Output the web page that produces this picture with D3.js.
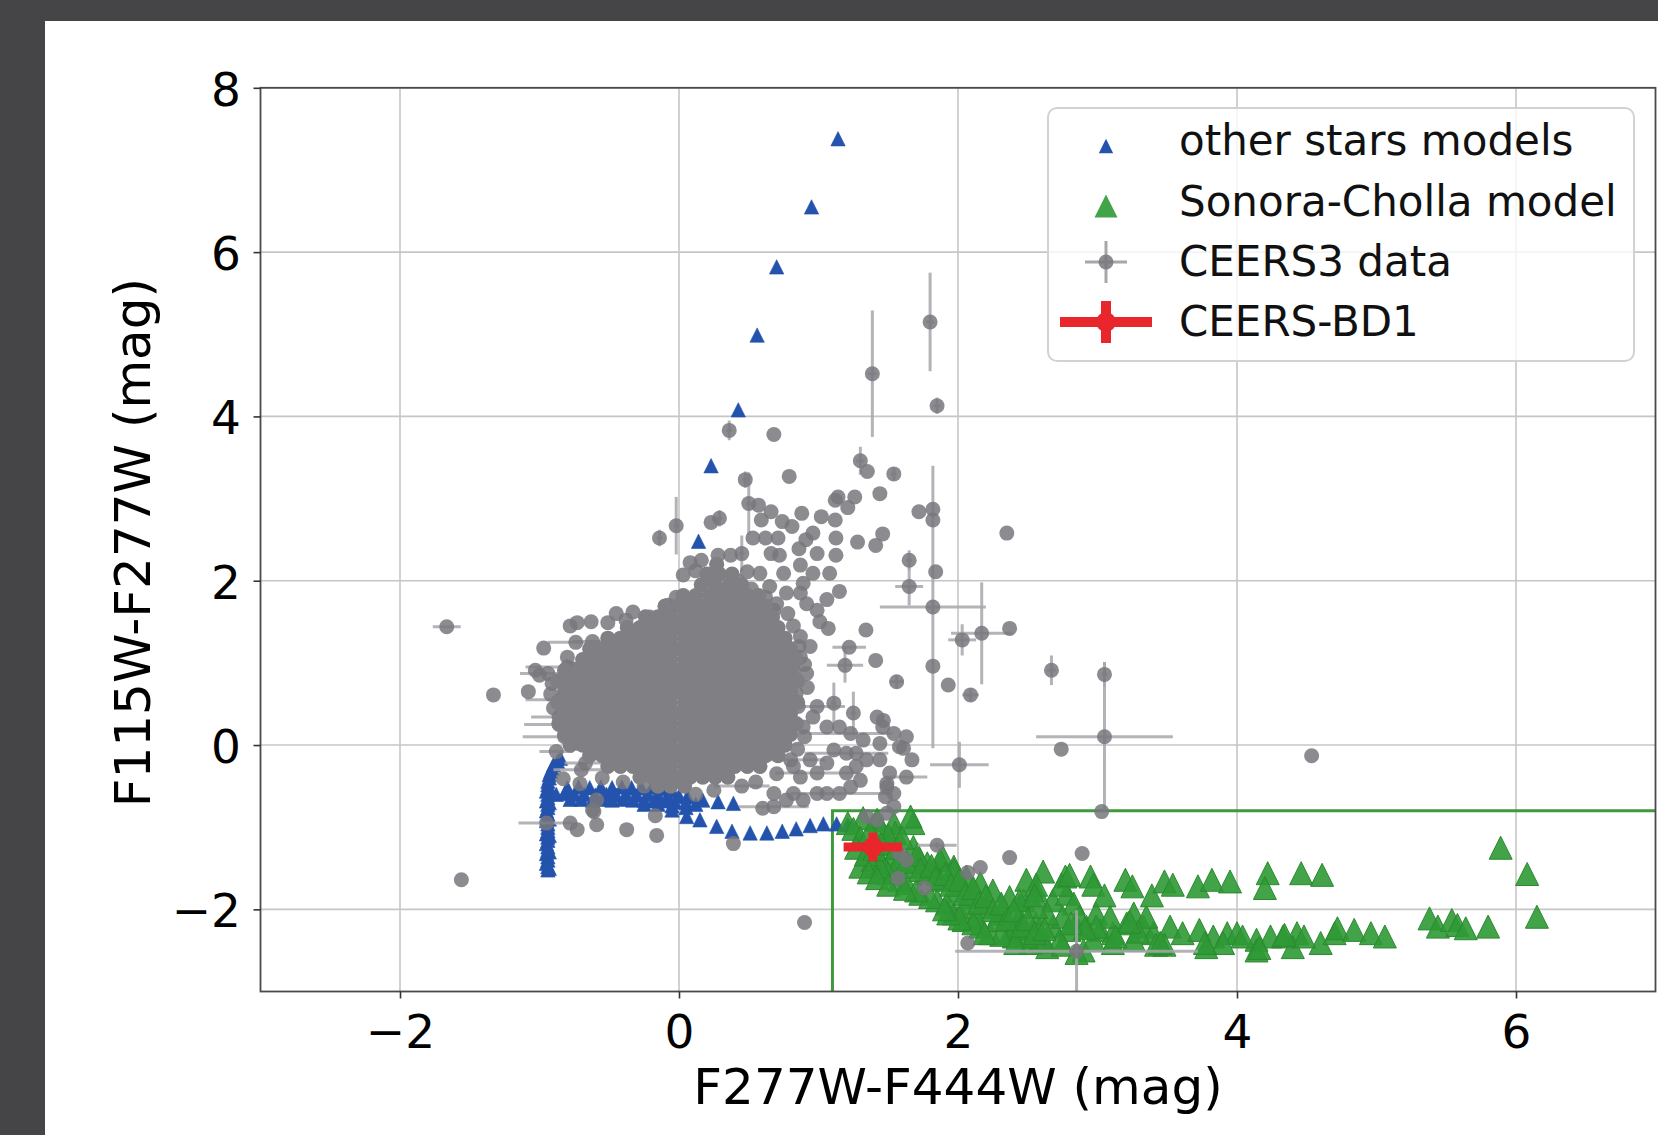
<!DOCTYPE html>
<html><head><meta charset="utf-8">
<script src="https://cdn.jsdelivr.net/npm/d3@7"></script>
<style>body{margin:0;background:#454547}svg{display:block}</style>
</head><body>
<svg id="c" width="1658" height="1135"></svg>
<script>
// ---------- data ----------
const xTicks = [-2, 0, 2, 4, 6];
const yTicks = [-2, 0, 2, 4, 6, 8];
const xDomain = [-3, 7];
const yDomain = [-3, 8];
const xLabel = "F277W-F444W (mag)";
const yLabel = "F115W-F277W (mag)";
const legendLabels = ["other stars models", "Sonora-Cholla model", "CEERS3 data", "CEERS-BD1"];
const selectionBox = [1.1, -0.8]; // x >= 1.1, y <= -0.8

// other stars models [x, y]
const otherStars = [
 [1.14,7.38],[0.95,6.55],[0.70,5.82],[0.56,4.99],[0.425,4.08],[0.23,3.40],[0.14,2.48],
 [-0.94,-1.52],[-0.94,-1.48],[-0.95,-1.44],[-0.94,-1.40],[-0.94,-1.36],[-0.95,-1.32],[-0.94,-1.28],[-0.94,-1.24],
 [-0.95,-1.20],[-0.94,-1.16],[-0.94,-1.12],[-0.95,-1.08],[-0.94,-1.04],[-0.94,-1.00],[-0.94,-0.96],[-0.95,-0.92],
 [-0.94,-0.88],[-0.94,-0.84],[-0.95,-0.80],[-0.94,-0.76],[-0.94,-0.72],[-0.95,-0.68],[-0.94,-0.64],[-0.94,-0.60],
 [-0.95,-0.56],[-0.94,-0.52],[-0.94,-0.48],[-0.94,-0.44],[-0.93,-0.40],[-0.93,-0.36],[-0.92,-0.32],[-0.91,-0.28],
 [-0.90,-0.24],[-0.87,-0.20],[-0.85,-0.16],[-0.93,-1.50],[-0.93,-1.30],[-0.93,-1.10],[-0.93,-0.90],[-0.93,-0.70],
 [-0.80,-0.52],[-0.72,-0.51],[-0.64,-0.52],[-0.56,-0.51],[-0.48,-0.52],[-0.41,-0.51],[-0.34,-0.52],[-0.27,-0.52],
 [-0.19,-0.51],[-0.12,-0.53],[-0.05,-0.55],
 [-0.88,-0.60],[-0.82,-0.59],[-0.75,-0.60],[-0.68,-0.60],[-0.60,-0.61],[-0.52,-0.60],[-0.45,-0.61],[-0.38,-0.60],
 [-0.30,-0.61],[-0.22,-0.60],[-0.15,-0.61],[-0.08,-0.62],[0.00,-0.62],[0.06,-0.63],
 [-0.78,-0.66],[-0.70,-0.66],[-0.62,-0.67],[-0.55,-0.66],[-0.48,-0.67],[-0.40,-0.66],[-0.33,-0.67],[-0.25,-0.67],
 [-0.18,-0.68],[-0.10,-0.68],[-0.03,-0.69],[0.05,-0.70],
 [-0.25,-0.72],[-0.15,-0.72],[-0.05,-0.74],[0.05,-0.76],[0.12,-0.72],
 [0.17,-0.67],[0.28,-0.69],[0.39,-0.71],[-0.05,-0.79],[0.055,-0.87],[0.15,-0.91],[0.27,-0.99],[0.38,-1.05],
 [0.51,-1.07],[0.63,-1.07],[0.74,-1.05],[0.84,-1.02],[0.94,-0.98],[1.035,-0.96],[1.13,-0.96],[1.21,-0.97],
 [1.72,-1.36],[2.44,-1.90],[2.87,-2.21]
];

// Sonora-Cholla model [x, y]
const sonora = [
 [1.21,-0.95],[1.32,-0.89],[1.42,-0.91],[1.54,-0.95],[1.68,-0.95],[1.66,-0.87],[1.30,-1.48],[1.39,-1.40],
 [1.54,-1.32],[1.68,-1.24],[1.78,-1.44],[1.89,-1.36],[1.97,-1.48],[1.55,-1.07],[1.49,-1.20],[1.46,-1.44],
 [1.54,-1.56],[1.63,-1.68],[1.73,-1.81],[1.85,-1.89],[1.97,-2.05],[2.04,-2.13],[2.16,-2.21],[2.23,-2.29],
 [2.40,-2.33],[2.52,-2.41],[2.64,-2.46],[2.75,-2.43],[2.90,-2.50],
 [1.87,-1.40],[1.97,-1.52],[2.06,-1.60],[2.16,-1.68],[2.25,-1.77],[2.37,-1.85],[2.47,-1.89],
 [1.58,-1.40],[1.68,-1.48],[1.78,-1.56],[1.87,-1.64],[1.99,-1.77],[2.09,-1.85],[2.21,-1.97],[2.30,-2.05],
 [2.44,-2.09],[2.56,-2.17],[2.68,-2.21],[2.80,-2.25],[2.92,-2.21],[3.02,-2.25],[3.11,-2.29],[3.21,-2.17],
 [3.33,-2.21],[3.40,-2.29],[3.52,-2.21],[3.61,-2.29],[3.73,-2.25],[3.83,-2.33],[3.93,-2.29],[4.00,-2.29],
 [4.14,-2.37],[4.24,-2.33],[4.33,-2.33],[4.43,-2.29],[4.60,-2.41],[4.70,-2.29],
 [3.42,-2.43],[3.48,-2.43],[3.78,-2.46],[3.90,-2.41],[4.14,-2.50],[4.40,-2.46],[3.26,-2.37],[3.11,-2.41],
 [2.97,-2.37],[2.73,-2.37],[2.59,-2.37],[2.37,-2.29],[2.28,-2.13],[2.13,-2.09],[2.04,-1.97],[1.92,-1.93],
 [1.80,-1.85],[1.70,-1.77],[1.58,-1.64],[1.50,-1.56],[1.44,-1.48],
 [2.49,-1.64],[2.56,-1.77],[2.44,-1.89],[2.68,-1.89],[2.78,-1.81],[2.83,-1.93],[2.87,-2.09],[2.75,-2.09],
 [2.64,-2.05],[2.56,-1.97],[2.99,-2.05],[3.09,-2.09],[3.26,-2.05],[3.35,-2.09],
 [2.61,-1.54],[2.56,-1.70],[2.55,-1.83],[2.77,-1.60],[2.74,-1.70],[2.80,-1.58],[2.95,-1.60],[2.97,-1.70],
 [3.05,-1.83],[3.20,-1.64],[3.25,-1.72],[3.39,-1.83],[3.48,-1.66],[3.54,-1.70],[3.72,-1.72],[3.82,-1.64],
 [3.95,-1.66],[4.22,-1.56],[4.20,-1.74],[4.46,-1.56],[4.61,-1.58],
 [4.72,-2.23],[4.84,-2.25],[4.96,-2.29],[5.06,-2.33],[4.48,-2.33],[4.34,-2.31],[4.16,-2.47],[4.04,-2.33],
 [3.77,-2.41],[3.45,-2.41],[3.29,-2.27],[3.23,-2.15],[3.13,-2.33],[2.99,-2.21],[2.91,-2.23],[2.81,-2.17],
 [2.61,-2.39],[2.49,-2.33],[2.41,-2.23],[2.31,-2.31],[2.11,-2.17],[2.01,-2.11],[1.93,-2.05],[2.19,-2.29],
 [2.41,-2.41],[2.85,-2.53],
 [5.38,-2.11],[5.44,-2.21],[5.54,-2.13],[5.58,-2.19],[5.64,-2.23],[5.80,-2.21],[5.89,-1.25],[6.08,-1.57],[6.15,-2.09],
 [1.25,-1.02],[1.30,-1.13],[1.27,-1.25],[1.34,-1.33],[1.40,-1.27],[1.37,-1.05],[1.45,-1.02],[1.50,-1.10],
 [1.45,-1.20],[1.56,-1.25],[1.60,-1.13],[1.63,-1.42],[1.71,-1.33],[1.73,-1.52],[1.81,-1.47],[1.84,-1.62],
 [1.91,-1.57],[1.95,-1.70],[2.01,-1.64],[2.05,-1.81],[2.11,-1.74],[2.15,-1.92],[2.20,-1.84],[2.25,-2.01],
 [2.31,-1.93],[2.35,-2.12],[2.40,-2.01],[2.46,-2.20],[2.50,-2.12],[2.55,-2.29],[2.62,-2.24],
 [1.36,-1.55],[1.42,-1.62],[1.50,-1.70],[1.62,-1.75],[1.90,-2.00]
];

// CEERS3 data, dense core [y, x1, x2, ...] per row
const ceersCoreRows = [
 [2.20, 0.27],
 [2.08, 0.20,0.29,0.38],
 [1.95, 0.16,0.26,0.36,0.45],
 [1.82, 0.03,0.12,0.22,0.31,0.40,0.49,0.57],
 [1.69, -0.10,-0.01,0.08,0.17,0.26,0.35,0.44,0.53,0.62],
 [1.56, -0.24,-0.15,-0.06,0.04,0.13,0.22,0.31,0.40,0.49,0.58,0.67],
 [1.43, -0.37,-0.28,-0.19,-0.10,-0.01,0.08,0.17,0.26,0.35,0.44,0.53,0.62,0.71],
 [1.30, -0.51,-0.42,-0.33,-0.24,-0.15,-0.06,0.04,0.13,0.22,0.31,0.40,0.49,0.58,0.67,0.76],
 [1.17, -0.64,-0.55,-0.46,-0.37,-0.28,-0.19,-0.10,-0.01,0.08,0.17,0.26,0.35,0.44,0.53,0.62,0.71,0.80],
 [1.04, -0.69,-0.60,-0.51,-0.42,-0.33,-0.24,-0.15,-0.06,0.04,0.13,0.22,0.31,0.40,0.49,0.58,0.67,0.76,0.84],
 [0.91, -0.82,-0.73,-0.64,-0.55,-0.46,-0.37,-0.28,-0.19,-0.10,-0.01,0.08,0.17,0.26,0.35,0.44,0.53,0.62,0.71,0.80],
 [0.78, -0.87,-0.78,-0.69,-0.60,-0.51,-0.42,-0.33,-0.24,-0.15,-0.06,0.04,0.13,0.22,0.31,0.40,0.49,0.58,0.67,0.76,0.85],
 [0.65, -0.82,-0.73,-0.64,-0.55,-0.46,-0.37,-0.28,-0.19,-0.10,-0.01,0.08,0.17,0.26,0.35,0.44,0.53,0.62,0.71,0.80],
 [0.52, -0.87,-0.78,-0.69,-0.60,-0.51,-0.42,-0.33,-0.24,-0.15,-0.06,0.04,0.13,0.22,0.31,0.40,0.49,0.58,0.67,0.76,0.85],
 [0.39, -0.82,-0.73,-0.64,-0.55,-0.46,-0.37,-0.28,-0.19,-0.10,-0.01,0.08,0.17,0.26,0.35,0.44,0.53,0.62,0.71,0.80],
 [0.26, -0.86,-0.78,-0.69,-0.60,-0.51,-0.42,-0.33,-0.24,-0.15,-0.06,0.04,0.13,0.22,0.31,0.40,0.49,0.58,0.67,0.76,0.84],
 [0.13, -0.82,-0.73,-0.64,-0.55,-0.46,-0.37,-0.28,-0.19,-0.10,-0.01,0.08,0.17,0.26,0.35,0.44,0.53,0.62,0.71,0.80],
 [0.00, -0.78,-0.69,-0.60,-0.51,-0.42,-0.33,-0.24,-0.15,-0.06,0.04,0.13,0.22,0.31,0.40,0.49,0.58,0.67,0.76],
 [-0.13, -0.64,-0.55,-0.46,-0.37,-0.28,-0.19,-0.10,-0.01,0.08,0.17,0.26,0.35,0.44,0.53,0.62,0.71],
 [-0.26, -0.51,-0.42,-0.33,-0.24,-0.15,-0.06,0.04,0.13,0.22,0.31,0.40,0.49,0.58],
 [-0.39, -0.28,-0.19,-0.10,-0.01,0.08,0.17,0.26,0.35],
 [-0.50, -0.15,-0.06,0.04]
];

// CEERS3 data, scattered points [x, y, xerr, yerr]
const ceersScatter = [
 [1.80,5.15,0.03,0.60],[1.386,4.52,0.03,0.77],[1.85,4.13,0.03,0.10],[0.36,3.83,0.02,0.12],[0.68,3.78,0,0],
 [1.30,3.46,0.03,0.17],[1.35,3.33,0,0],[1.54,3.30,0.02,0.08],[0.79,3.27,0,0],[0.475,3.23,0.02,0.10],
 [1.44,3.06,0,0],[1.14,3.02,0,0],[1.26,3.02,0,0],[1.12,2.98,0,0],[1.21,2.89,0,0],[1.72,2.84,0,0],
 [1.82,2.87,0,0],[1.82,2.74,0,0],[1.65,2.25,0.02,0.12],[1.84,2.11,0,0],[2.35,2.58,0,0],[1.46,2.57,0,0],
 [1.41,2.43,0,0],[1.28,2.47,0,0],[1.125,2.52,0,0],[1.125,2.31,0,0],[0.99,2.33,0,0],[0.96,2.58,0,0],
 [0.91,2.50,0,0],[0.86,2.39,0,0],[1.02,2.78,0,0],[1.12,2.74,0,0],[0.88,2.82,0,0],[0.81,2.66,0,0],
 [0.74,2.72,0,0],[0.66,2.84,0,0],[0.59,2.74,0,0],[0.57,2.92,0,0],[0.50,2.94,0.02,0.38],[0.62,2.52,0,0],
 [0.71,2.52,0,0],[0.53,2.52,0,0],[0.66,2.33,0,0],[0.72,2.31,0,0],[0.45,2.33,0.02,0.22],[0.37,2.31,0,0],
 [0.28,2.31,0,0],[0.29,2.76,0.02,0.10],[0.23,2.71,0,0],[-0.02,2.67,0.02,0.35],[-0.14,2.52,0.02,0.10],
 [0.16,2.25,0,0],[0.08,2.22,0,0],[0.03,2.07,0,0],[0.23,2.07,0,0],[0.49,2.11,0,0],[0.75,2.09,0,0],
 [0.87,2.19,0,0],[0.96,2.09,0,0],[1.08,2.09,0,0],
 [1.65,1.93,0.10,0.23],[1.82,1.68,0.38,1.72],[2.03,1.28,0.10,0.19],[2.17,1.36,0.22,0.62],[2.37,1.42,0,0],
 [1.82,0.96,0,0],[1.93,0.73,0,0],[2.09,0.61,0.06,0.08],[1.56,0.77,0.05,0.08],[1.41,1.03,0,0],[1.34,1.40,0,0],
 [1.19,0.97,0.13,0.21],[1.22,1.19,0.12,0],[2.01,-0.24,0.21,0.28],[2.67,0.91,0.03,0.18],[3.05,0.86,0.02,0.15],
 [3.05,0.10,0.49,0.91],[2.74,-0.05,0,0],[3.03,-0.81,0,0],[4.535,-0.13,0,0],[1.85,-1.22,0.14,0.04],
 [2.37,-1.37,0,0],[2.89,-1.32,0,0],[2.16,-1.49,0,0],[2.07,-1.55,0,0],[1.76,-1.74,0.04,0.05],[2.07,-2.41,0,0],
 [2.85,-2.51,0.87,0.50],[1.57,-1.62,0,0],[1.58,-1.32,0,0],[1.63,-1.40,0,0],[1.42,-0.91,0,0],[1.49,-0.83,0,0],
 [1.54,-0.75,0,0],[1.345,-0.87,0,0],
 [0.39,-1.20,0,0],[-0.16,-1.10,0,0],[-0.375,-1.03,0,0],[-0.17,-0.86,0,0],[-0.61,-0.81,0,0],[-0.59,-0.97,0,0],
 [-0.73,-1.03,0,0],[-0.78,-0.95,0,0],[-0.95,-0.95,0.20,0],[-0.83,-0.41,0,0],[-0.71,-0.47,0,0],
 [-0.88,-0.08,0.12,0],[-0.67,-0.22,0.15,0],[-0.48,-0.20,0,0],[-0.63,-0.06,0,0],[-0.72,0.02,0,0],[-0.79,0.22,0,0],
 [-0.86,0.34,0.20,0],[-0.91,0.75,0,0],[-0.94,0.87,0.20,0],[-1.00,0.85,0,0],[-1.03,0.91,0,0],[-1.08,0.65,0,0],
 [-0.97,1.18,0,0],[-1.33,0.61,0,0],[-1.665,1.44,0.10,0],[-1.56,-1.64,0,0],[0.90,-2.16,0,0],
 [-0.78,1.45,0,0],[-0.73,1.49,0,0],[-0.63,1.50,0,0],[-0.51,1.49,0,0],[-0.33,1.62,0,0],[-0.21,1.56,0,0],
 [-0.09,1.56,0,0],[-0.29,1.40,0,0],[-0.62,1.26,0.14,0],[-0.57,1.14,0,0],[-0.80,1.07,0,0],[-0.76,0.93,0,0],
 [-0.59,-0.67,0,0],[-0.62,-0.79,0,0],
 [-0.85,0.55,0.25,0],[-0.82,0.10,0.30,0],[-0.80,0.95,0.30,0],[-0.74,1.25,0.20,0],[-0.86,0.25,0.25,0],
 [-0.70,-0.30,0.20,0],[-0.55,-0.40,0,0],[-0.40,-0.45,0,0],[-0.90,0.45,0,0],[-0.92,0.62,0,0],
 [-0.45,1.60,0,0],[-0.38,1.52,0,0],[-0.02,1.80,0,0],[-0.08,1.70,0,0],[0.62,1.80,0,0],[0.70,1.72,0,0],
 [0.78,1.60,0,0],[0.82,1.45,0,0],[0.86,1.20,0,0],[0.90,0.98,0,0],[0.92,0.70,0,0],[0.90,0.10,0,0],
 [0.85,-0.05,0,0],[0.80,-0.18,0.25,0],[0.70,-0.35,0,0],[0.55,-0.45,0,0],[0.45,-0.50,0.20,0],
 [0.25,-0.55,0,0],[0.12,-0.60,0,0],[-0.25,-0.50,0,0],[0.12,2.12,0,0],[0.42,2.00,0,0],[0.52,1.90,0,0],
 [1.15,1.87,0,0],[1.06,1.77,0,0],[0.99,1.64,0,0],[1.01,1.50,0,0],[1.07,1.42,0,0],[0.915,1.72,0,0],
 [0.87,1.85,0,0],[0.89,1.97,0,0],[0.77,1.85,0,0],[0.68,1.64,0,0],[0.65,1.93,0,0],[0.58,2.09,0,0],
 [0.87,1.32,0,0],[0.94,1.20,0,0],[0.87,1.07,0,0],[0.82,0.91,0,0],[0.915,0.87,0,0],[0.84,0.63,0,0],
 [0.855,0.47,0,0],[0.99,0.47,0.20,0],[1.11,0.51,0.02,0.25],[1.25,0.39,0.02,0.26],[1.42,0.34,0,0],[1.46,0.22,0,0],
 [1.54,0.14,0,0],[1.63,0.10,0,0],[1.58,-0.02,0,0],[1.44,0.02,0,0],[1.32,0.06,0,0],[1.23,0.14,0.30,0],
 [1.15,0.22,0,0],[1.06,0.22,0,0],[0.96,0.34,0,0],[0.89,0.22,0,0],[1.67,-0.18,0,0],[1.63,-0.39,0.15,0],
 [1.51,-0.34,0,0],[1.49,-0.51,0,0],[1.54,-0.59,0,0],[1.44,-0.18,0,0],[1.345,-0.18,0,0],[1.27,-0.26,0,0],
 [1.20,-0.34,0,0],[1.30,-0.43,0,0],[1.23,-0.51,0,0],[1.15,-0.59,0.35,0],[1.06,-0.59,0,0],[0.99,-0.59,0,0],
 [0.89,-0.67,0,0],[0.82,-0.59,0,0],[0.77,-0.67,0,0],[0.68,-0.75,0.25,0],[0.60,-0.77,0,0],[0.68,-0.59,0,0],
 [0.87,-0.39,0,0],[0.99,-0.34,0.30,0],[1.06,-0.22,0,0],[0.94,-0.18,0,0],[0.82,-0.26,0,0],[1.11,-0.06,0,0],
 [1.20,-0.10,0.30,0],[1.27,-0.10,0,0],[1.465,0.30,0,0],[1.61,-0.04,0,0],[1.49,-0.47,0,0],[1.48,-0.63,0,0]
];

// CEERS-BD1 [x, y, xerr, yerr]
const bd1 = [1.39, -1.24, 0.21, 0.175];

// ---------- drawing ----------
const W = 1658, H = 1135;
const svg = d3.select("#c");
const FONT = "DejaVu Sans";
svg.append("rect").attr("width", W).attr("height", H).attr("fill", "#454547");
svg.append("rect").attr("x", 45).attr("y", 21).attr("width", W - 45).attr("height", H - 21).attr("fill", "#ffffff");

const x = d3.scaleLinear().domain(xDomain).range([260.5, 1655.5]);
const y = d3.scaleLinear().domain(yDomain).range([991.5, 87.8]);

const COL_BLUE = "#2453ad", COL_GREEN = "#2f9934", COL_GRAY = "#77777d", COL_CORE = "#7f7f84",
      COL_ERR = "#a6a6ab", COL_RED = "#e8262b";
const tri = h => `M0,${-h}L${-h},${h}L${h},${h}Z`;

// grid
const grid = svg.append("g");
grid.selectAll("line.gx").data(xTicks).join("line")
  .attr("x1", d => x(d)).attr("x2", d => x(d)).attr("y1", y(yDomain[0])).attr("y2", y(yDomain[1]))
  .attr("stroke", "#c6c6c6").attr("stroke-width", 1.6);
grid.selectAll("line.gy").data(yTicks).join("line")
  .attr("y1", d => y(d)).attr("y2", d => y(d)).attr("x1", x(xDomain[0])).attr("x2", x(xDomain[1]))
  .attr("stroke", "#c6c6c6").attr("stroke-width", 1.6);

svg.append("clipPath").attr("id", "clip").append("rect")
  .attr("x", x(xDomain[0])).attr("y", y(yDomain[1]))
  .attr("width", x(xDomain[1]) - x(xDomain[0])).attr("height", y(yDomain[0]) - y(yDomain[1]));
const plot = svg.append("g").attr("clip-path", "url(#clip)");

// selection box
plot.append("path")
  .attr("d", `M${x(selectionBox[0])},${y(yDomain[0]) + 5}V${y(selectionBox[1])}H${x(xDomain[1]) + 5}`)
  .attr("fill", "none").attr("stroke", "#3d9a3d").attr("stroke-width", 3);

// other stars models
plot.append("g").selectAll("path").data(otherStars).join("path")
  .attr("d", tri(7.2)).attr("transform", d => `translate(${x(d[0])},${y(d[1])})`)
  .attr("fill", COL_BLUE).attr("stroke", COL_BLUE).attr("stroke-width", 0.6);

// Sonora-Cholla
plot.append("g").selectAll("path").data(sonora).join("path")
  .attr("d", tri(11.5)).attr("transform", d => `translate(${x(d[0])},${y(d[1])})`)
  .attr("fill", COL_GREEN).attr("fill-opacity", 0.9).attr("stroke", "#2a8a2f").attr("stroke-width", 1);

// CEERS3 data
const core = [];
ceersCoreRows.forEach(r => r.slice(1).forEach(v => core.push([v, r[0]])));
const eb = plot.append("g").attr("stroke", COL_ERR).attr("stroke-width", 3).attr("stroke-opacity", 0.85);
ceersScatter.filter(d => d[2] > 0).forEach(d => {
  eb.append("line").attr("x1", x(d[0] - d[2])).attr("x2", x(d[0] + d[2])).attr("y1", y(d[1])).attr("y2", y(d[1]));
});
ceersScatter.filter(d => d[3] > 0).forEach(d => {
  eb.append("line").attr("x1", x(d[0])).attr("x2", x(d[0])).attr("y1", y(d[1] - d[3])).attr("y2", y(d[1] + d[3]));
});
plot.append("g").selectAll("circle").data(ceersScatter).join("circle")
  .attr("cx", d => x(d[0])).attr("cy", d => y(d[1])).attr("r", 7.5)
  .attr("fill", COL_GRAY).attr("fill-opacity", 0.85);
plot.append("g").selectAll("circle").data(core).join("circle")
  .attr("cx", d => x(d[0])).attr("cy", d => y(d[1])).attr("r", 7.6)
  .attr("fill", COL_CORE);

// CEERS-BD1
const red = plot.append("g").attr("stroke", COL_RED).attr("stroke-width", 9);
red.append("line").attr("x1", x(bd1[0] - bd1[2])).attr("x2", x(bd1[0] + bd1[2])).attr("y1", y(bd1[1])).attr("y2", y(bd1[1]));
red.append("line").attr("x1", x(bd1[0])).attr("x2", x(bd1[0])).attr("y1", y(bd1[1] - bd1[3])).attr("y2", y(bd1[1] + bd1[3]));
red.append("circle").attr("cx", x(bd1[0])).attr("cy", y(bd1[1])).attr("r", 10).attr("fill", COL_RED).attr("stroke", "none");

// frame
svg.append("rect").attr("x", x(xDomain[0])).attr("y", y(yDomain[1]))
  .attr("width", x(xDomain[1]) - x(xDomain[0])).attr("height", y(yDomain[0]) - y(yDomain[1]))
  .attr("fill", "none").attr("stroke", "#4a4a4a").attr("stroke-width", 1.8);

// axes
const fmt = d3.format("d");
const ax = svg.append("g").attr("transform", `translate(0,${y(yDomain[0])})`)
  .call(d3.axisBottom(x).tickValues(xTicks).tickFormat(fmt).tickSize(7).tickPadding(16).tickSizeOuter(0));
const ay = svg.append("g").attr("transform", `translate(${x(xDomain[0])},0)`)
  .call(d3.axisLeft(y).tickValues(yTicks).tickFormat(fmt).tickSize(7).tickPadding(12.5).tickSizeOuter(0));
[ax, ay].forEach(a => {
  a.select(".domain").remove();
  a.selectAll(".tick line").attr("stroke", "#333").attr("stroke-width", 1.6);
  a.selectAll(".tick text").attr("font-family", FONT).attr("font-size", 47).attr("fill", "#000");
});
ay.selectAll(".tick text").attr("dy", "0.37em");

svg.append("text").attr("x", (x(xDomain[0]) + x(xDomain[1])) / 2).attr("y", 1104)
  .attr("text-anchor", "middle").attr("font-family", FONT).attr("font-size", 50).text(xLabel);
svg.append("text").attr("transform", `translate(150,${(y(yDomain[0]) + y(yDomain[1])) / 2 + 3}) rotate(-90)`)
  .attr("text-anchor", "middle").attr("font-family", FONT).attr("font-size", 50).text(yLabel);

// legend
const lg = svg.append("g");
lg.append("rect").attr("x", 1048).attr("y", 108).attr("width", 586).attr("height", 253).attr("rx", 9)
  .attr("fill", "#fff").attr("fill-opacity", 0.8).attr("stroke", "#d2d2d2").attr("stroke-width", 2);
const mx = 1106, rowsY = [146, 206, 262, 322], baseY = [155, 215.5, 275.5, 336];
lg.append("path").attr("d", tri(7.2)).attr("transform", `translate(${mx},${rowsY[0]})`).attr("fill", COL_BLUE);
lg.append("path").attr("d", tri(11.5)).attr("transform", `translate(${mx},${rowsY[1]})`).attr("fill", COL_GREEN).attr("fill-opacity", 0.9);
lg.append("line").attr("x1", mx - 21).attr("x2", mx + 21).attr("y1", rowsY[2]).attr("y2", rowsY[2]).attr("stroke", COL_ERR).attr("stroke-width", 3);
lg.append("line").attr("x1", mx).attr("x2", mx).attr("y1", rowsY[2] - 21).attr("y2", rowsY[2] + 21).attr("stroke", COL_ERR).attr("stroke-width", 3);
lg.append("circle").attr("cx", mx).attr("cy", rowsY[2]).attr("r", 7.5).attr("fill", COL_GRAY).attr("fill-opacity", 0.85);
lg.append("line").attr("x1", mx - 46).attr("x2", mx + 46).attr("y1", rowsY[3]).attr("y2", rowsY[3]).attr("stroke", COL_RED).attr("stroke-width", 10);
lg.append("line").attr("x1", mx).attr("x2", mx).attr("y1", rowsY[3] - 21).attr("y2", rowsY[3] + 21).attr("stroke", COL_RED).attr("stroke-width", 10);
lg.append("circle").attr("cx", mx).attr("cy", rowsY[3]).attr("r", 10).attr("fill", COL_RED);
lg.selectAll("text").data(legendLabels).join("text")
  .attr("x", 1179).attr("y", (d, i) => baseY[i]).attr("font-family", FONT).attr("font-size", 42).attr("fill", "#111").text(d => d);
</script>
</body></html>
